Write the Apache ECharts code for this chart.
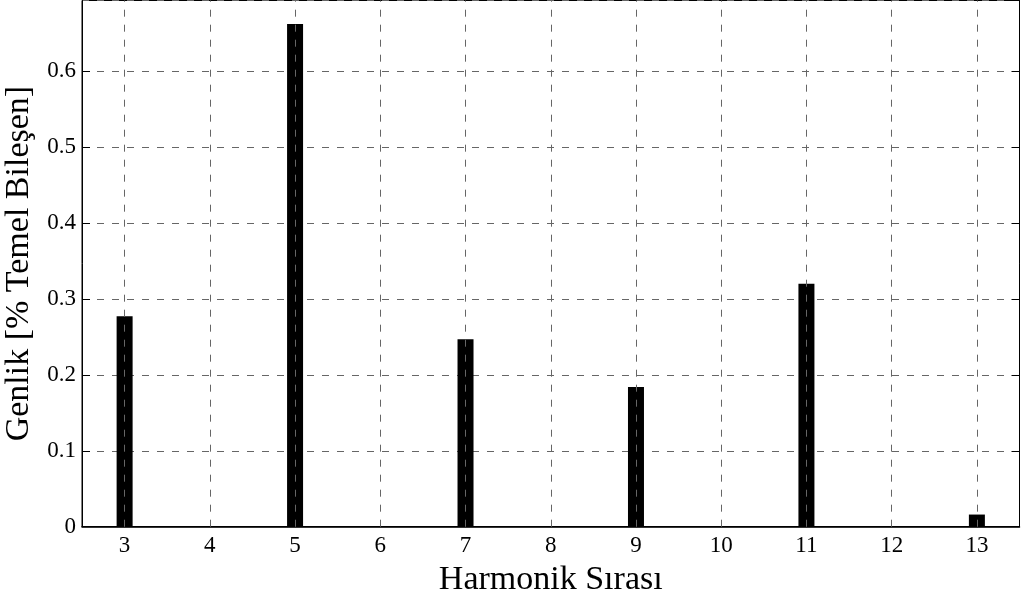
<!DOCTYPE html>
<html>
<head>
<meta charset="utf-8">
<script src="https://cdn.jsdelivr.net/npm/echarts@6/dist/echarts.min.js"></script>
<style>
  html, body { margin: 0; padding: 0; background: #fff; }
  #chart { width: 1021px; height: 596px; }
</style>
</head>
<body>
<div id="chart"></div>
<script>
// Harmonic orders and their amplitudes (% of fundamental)
const harmonicOrders = ['3', '4', '5', '6', '7', '8', '9', '10', '11', '12', '13'];
const amplitudes = [0.277, 0, 0.662, 0, 0.247, 0, 0.184, 0, 0.320, 0, 0.016];
const yTicks = { min: 0, max: 0.693, interval: 0.1 };
const xTitle = 'Harmonik Sırası';
const yTitle = 'Genlik [% Temel Bileşen]';

const font = '"Liberation Serif", "Times New Roman", serif';
const gridLine = { color: '#666', width: 1, type: [7, 8] };

const chart = echarts.init(document.getElementById('chart'));
chart.setOption({
  animation: false,
  backgroundColor: '#fff',
  textStyle: { fontFamily: font },
  grid: {
    left: 82, right: 1.5, top: 0.5, bottom: 69.3,
    containLabel: false,
    outerBoundsMode: 'none',
    show: true, borderColor: '#000', borderWidth: 1, backgroundColor: 'transparent'
  },
  xAxis: [
    {
      type: 'category',
      data: harmonicOrders,
      boundaryGap: true,
      name: xTitle,
      nameLocation: 'middle',
      nameGap: 33,
      nameTextStyle: { fontFamily: font, fontSize: 34, color: '#000' },
      axisLine: { lineStyle: { color: '#000', width: 1.5 } },
      axisTick: { inside: true, length: 8, alignWithLabel: true, lineStyle: { color: '#000' } },
      axisLabel: { fontFamily: font, fontSize: 23, color: '#000', margin: 8 },
      splitLine: { show: false }
    },
    {
      type: 'category',
      data: harmonicOrders,
      position: 'top',
      boundaryGap: true,
      axisLine: { lineStyle: { color: '#000' } },
      axisTick: { inside: true, length: 8, alignWithLabel: true, lineStyle: { color: '#000' } },
      axisLabel: { show: false },
      splitLine: { show: false }
    }
  ],
  yAxis: [
    {
      type: 'value',
      min: yTicks.min, max: yTicks.max, interval: yTicks.interval,
      name: yTitle,
      nameLocation: 'middle',
      nameGap: 43,
      nameTextStyle: { fontFamily: font, fontSize: 34, color: '#000' },
      axisLine: { show: true, lineStyle: { color: '#000' } },
      axisTick: { show: true, inside: true, length: 8, lineStyle: { color: '#000' } },
      axisLabel: {
        fontFamily: font, fontSize: 23, color: '#000', margin: 6,
        showMaxLabel: false,
        formatter: v => String(+v.toFixed(1))
      },
      splitLine: { show: true, lineStyle: gridLine }
    },
    {
      type: 'value',
      position: 'right',
      min: yTicks.min, max: yTicks.max, interval: yTicks.interval,
      axisLine: { show: true, lineStyle: { color: '#000' } },
      axisTick: { show: true, inside: true, length: 8, lineStyle: { color: '#000' } },
      axisLabel: { show: false },
      splitLine: { show: false }
    }
  ],
  series: [
    {
      // vertical dashed grid lines at each harmonic order, behind the bars
      type: 'line',
      data: [],
      z: 1,
      silent: true,
      markLine: {
        silent: true,
        symbol: ['none', 'none'],
        label: { show: false },
        lineStyle: gridLine,
        data: harmonicOrders.map(c => ({ xAxis: c }))
      }
    },
    {
      type: 'bar',
      data: amplitudes,
      barWidth: 16,
      z: 3,
      itemStyle: { color: '#000' }
    }
  ]
});
</script>
</body>
</html>
